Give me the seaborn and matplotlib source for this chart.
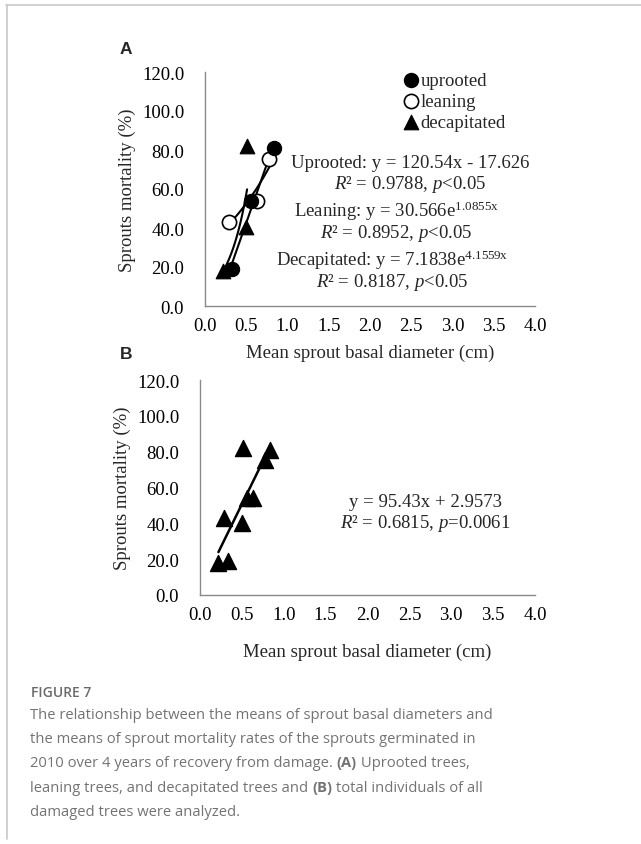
import numpy as np
import matplotlib
matplotlib.use("Agg")
import matplotlib.pyplot as plt
import seaborn as sns
from matplotlib.lines import Line2D

# Data
uprooted_x = [0.33, 0.56, 0.84]
uprooted_y = [19.0, 54.0, 81.0]
leaning_x = [0.29, 0.63, 0.78]
leaning_y = [43.0, 54.0, 75.5]
decap_x = [0.22, 0.50, 0.51]
decap_y = [18.0, 40.3, 81.8]

# Trendline coefficients (from the equations shown)
uprooted_fit = (120.54, -17.626)      # linear
leaning_fit = (30.566, 1.0855)        # exponential
decap_fit = (7.1838, 4.1559)          # exponential
total_fit = (95.43, 2.9573)           # linear

x_ticks = np.arange(0, 4.01, 0.5)
y_ticks = np.arange(0, 120.1, 20)

sns.set_style("white")
plt.rcParams["font.family"] = ["Liberation Serif", "DejaVu Serif"]
plt.rcParams["mathtext.fontset"] = "custom"
plt.rcParams["mathtext.rm"] = "Liberation Serif"
plt.rcParams["mathtext.it"] = "Liberation Serif:italic"

W, H = 641, 845
fig = plt.figure(figsize=(W / 100, H / 100), dpi=100)


def px(x, y):
    return x / W, 1 - y / H


FS = 13.5
axis_grey = "#8a8a8a"


def style_axes(ax):
    ax.set_xlim(0, 4)
    ax.set_ylim(0, 120)
    ax.set_xticks(x_ticks)
    ax.set_yticks(y_ticks)
    ax.set_xticklabels([f"{v:.1f}" for v in x_ticks], fontsize=FS)
    ax.set_yticklabels([f"{v:.1f}" for v in y_ticks], fontsize=FS)
    sns.despine(ax=ax)
    for s in ["left", "bottom"]:
        ax.spines[s].set_color(axis_grey)
        ax.spines[s].set_linewidth(1.0)
    ax.tick_params(axis="both", direction="in", length=3.5, width=1.0,
                   color=axis_grey, labelcolor="black")
    ax.tick_params(axis="x", pad=8)
    ax.tick_params(axis="y", pad=15)
    ax.set_xlabel("Mean sprout basal diameter (cm)", fontsize=FS)
    ax.set_ylabel("Sprouts mortality (%)", fontsize=FS)


def lin_line(xs, a, b):
    xx = np.linspace(min(xs), max(xs), 50)
    return xx, a * xx + b


def exp_line(xs, a, b):
    xx = np.linspace(min(xs), max(xs), 50)
    return xx, a * np.exp(b * xx)


# Panel A
axA = fig.add_axes([205 / W, 1 - 307 / H, 330 / W, 234 / H])
xx, yy = lin_line(uprooted_x, *uprooted_fit)
sns.lineplot(x=xx, y=yy, ax=axA, color="black", lw=1.5)
xx, yy = exp_line(leaning_x, *leaning_fit)
sns.lineplot(x=xx, y=yy, ax=axA, color="black", lw=1.5)
xx, yy = exp_line(decap_x, *decap_fit)
sns.lineplot(x=xx, y=yy, ax=axA, color="black", lw=1.5)

sns.scatterplot(x=decap_x, y=decap_y, ax=axA, marker="^", s=110,
                color="black", edgecolor="black", label="decapitated", zorder=3)
sns.scatterplot(x=leaning_x, y=leaning_y, ax=axA, marker="o", s=105,
                facecolor="white", edgecolor="black", linewidth=1.2,
                label="leaning", zorder=4)
sns.scatterplot(x=uprooted_x, y=uprooted_y, ax=axA, marker="o", s=105,
                color="black", edgecolor="black", label="uprooted", zorder=5)
style_axes(axA)
axA.xaxis.set_label_coords(0.5, -0.16)

h, l = axA.get_legend_handles_labels()
order = [l.index("uprooted"), l.index("leaning"), l.index("decapitated")]
leg = axA.legend([h[i] for i in order], [l[i] for i in order],
                 loc="upper left", bbox_to_anchor=px(403, 73),
                 bbox_transform=fig.transFigure, frameon=False,
                 fontsize=FS, borderpad=0, borderaxespad=0,
                 handlelength=0.9, handletextpad=0.05, labelspacing=0.2,
                 markerscale=1.0)

eqA = [
    ("Uprooted: y = 120.54x - 17.626", 410.3, 168.3),
    ("$R$² = 0.9788, $p$<0.05", 410, 189),
    ("Leaning: y = 30.566e$^{\\mathrm{1.0855x}}$", 396.7, 216.7),
    ("$R$² = 0.8952, $p$<0.05", 396, 238.3),
    ("Decapitated: y = 7.1838e$^{\\mathrm{4.1559x}}$", 392.5, 266),
    ("$R$² = 0.8187, $p$<0.05", 391.7, 286.7),
]
for txt, x, y in eqA:
    fig.text(*px(x, y), txt, ha="center", va="baseline", fontsize=FS)

# Panel B
all_x = uprooted_x + leaning_x + decap_x
all_y = uprooted_y + leaning_y + decap_y
axB = fig.add_axes([200 / W, 1 - 596 / H, 335 / W, 215 / H])
xx, yy = lin_line(all_x, *total_fit)
sns.lineplot(x=xx, y=yy, ax=axB, color="black", lw=1.8)
sns.scatterplot(x=all_x, y=all_y, ax=axB, marker="^", s=135,
                color="black", edgecolor="black", zorder=3)
style_axes(axB)
axB.xaxis.set_label_coords(0.5, -0.22)

fig.text(*px(425.8, 506.7), "y = 95.43x + 2.9573", ha="center",
         va="baseline", fontsize=FS)
fig.text(*px(425.7, 528.3), "$R$² = 0.6815, $p$=0.0061", ha="center",
         va="baseline", fontsize=FS)

# Panel letters
fig.text(*px(120, 50), "A", ha="left", va="center", fontsize=12.5,
         fontweight="bold", family="Liberation Sans")
fig.text(*px(120, 355), "B", ha="left", va="center", fontsize=12.5,
         fontweight="bold", family="Liberation Sans")

# Caption
cap_color = "#737373"
fig.text(*px(31, 696.7), "FIGURE 7", ha="left", va="baseline", fontsize=10,
         family="Open Sans", fontweight="semibold", color="#6a6a6a")

caption = [
    [("The relationship between the means of sprout basal diameters and", "normal")],
    [("the means of sprout mortality rates of the sprouts germinated in", "normal")],
    [("2010 over 4 years of recovery from damage. ", "normal"), ("(A)", "bold"),
     (" Uprooted trees,", "normal")],
    [("leaning trees, and decapitated trees and ", "normal"), ("(B)", "bold"),
     (" total individuals of all", "normal")],
    [("damaged trees were analyzed.", "normal")],
]
baselines = [719.3, 743.3, 767.4, 791.6, 815.7]
renderer = fig.canvas.get_renderer()
for parts, yb in zip(caption, baselines):
    x0 = 30
    for txt, wt in parts:
        t = fig.text(*px(x0, yb), txt, ha="left", va="baseline", fontsize=10.6,
                     family="Open Sans", fontweight=wt, color=cap_color)
        bb = t.get_window_extent(renderer=renderer)
        x0 = bb.x1

# Frame lines
fig.add_artist(Line2D([6 / W, 1], [1 - 6 / H, 1 - 6 / H], transform=fig.transFigure,
                      color="#c8c8c8", lw=1.2))
fig.add_artist(Line2D([6.5 / W, 6.5 / W], [1 - 6 / H, 1 - 840 / H],
                      transform=fig.transFigure, color="#c8c8c8", lw=1.2))

fig.savefig("out.png", dpi=100)
